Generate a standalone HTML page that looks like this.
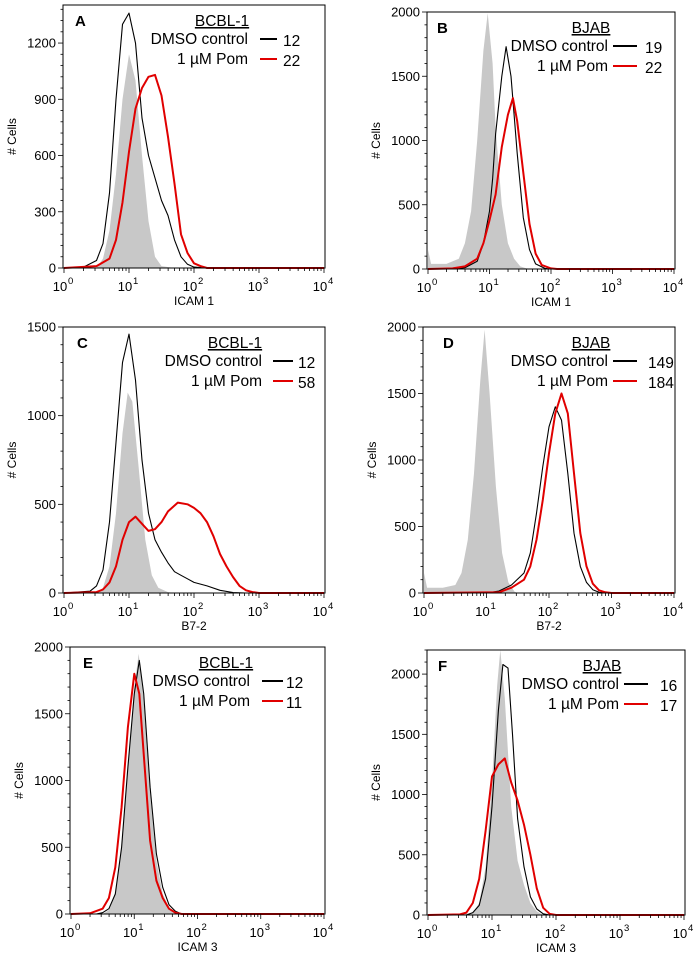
<!DOCTYPE html>
<html><head><meta charset="utf-8"><style>
html,body{margin:0;padding:0;background:#fff;}
svg{display:block;font-family:"Liberation Sans",Arial,sans-serif;}
</style></head><body>
<svg id="fig" width="700" height="972" viewBox="0 0 700 972" xmlns="http://www.w3.org/2000/svg"></svg>
<script>
// ---- data (log10 fluorescence positions, cell counts) ----
const panelLetters = ["A","B","C","D","E","F"];
const cellLines = ["BCBL-1","BJAB","BCBL-1","BJAB","BCBL-1","BJAB"];
const markers = ["ICAM 1","ICAM 1","B7-2","B7-2","ICAM 3","ICAM 3"];
const mfiDmso = ["12","19","12","149","12","16"];
const mfiPom = ["22","22","58","184","11","17"];
const xTickLabels = ["0","1","2","3","4"];
const yTicksA = [0,300,600,900,1200];
const yTicksB = [0,500,1000,1500,2000];
const yTicksC = [0,500,1000,1500];
const yTicksD = [0,500,1000,1500,2000];
const yTicksE = [0,500,1000,1500,2000];
const yTicksF = [0,500,1000,1500,2000];
const yMax = [1403,2000,1500,2000,2000,2200];

const grayAx=[0.5,0.6,0.7,0.8,0.9,1.0,1.1,1.2,1.3,1.4,1.5,1.7];
const grayAy=[0,50,200,500,900,1140,1000,600,250,60,10,0];
const blackAx=[0.3,0.5,0.6,0.7,0.8,0.9,1.0,1.1,1.2,1.3,1.4,1.5,1.6,1.7,1.8,1.9,2.0,2.2];
const blackAy=[5,40,130,400,900,1300,1360,1200,800,600,480,360,280,150,60,20,5,0];
const redAx=[0.5,0.7,0.8,0.9,1.0,1.1,1.2,1.3,1.4,1.5,1.6,1.7,1.8,1.9,2.0,2.1,2.2];
const redAy=[10,50,150,350,620,850,960,1020,1030,920,700,450,180,80,25,10,0];

const grayBx=[0,0.05,0.3,0.5,0.6,0.7,0.8,0.9,0.97,1.05,1.1,1.2,1.3,1.4,1.5,1.6,1.7];
const grayBy=[150,40,40,80,200,450,1000,1700,1990,1600,1100,500,200,80,20,5,0];
const blackBx=[0.4,0.6,0.8,0.9,1.0,1.05,1.1,1.2,1.27,1.35,1.45,1.55,1.65,1.75,1.9,2.0];
const blackBy=[0,10,60,200,450,700,1050,1500,1730,1500,900,400,150,40,5,0];
const redBx=[0.4,0.6,0.8,0.9,1.0,1.1,1.2,1.3,1.38,1.45,1.55,1.65,1.75,1.85,2.0,2.1];
const redBy=[5,20,80,200,380,580,950,1200,1330,1150,750,350,120,30,5,0];

const grayCx=[0.5,0.6,0.7,0.8,0.9,0.98,1.05,1.15,1.25,1.35,1.45,1.6,1.7];
const grayCy=[0,30,150,450,900,1130,1080,700,300,100,30,5,0];
const blackCx=[0.4,0.5,0.6,0.7,0.8,0.9,1.0,1.1,1.2,1.3,1.4,1.5,1.6,1.7,1.8,1.9,2.0,2.2,2.4,2.6,2.8];
const blackCy=[10,40,130,400,850,1300,1460,1200,750,450,300,230,170,120,100,80,60,40,15,3,0];
const redCx=[0.5,0.6,0.7,0.8,0.9,1.0,1.1,1.2,1.3,1.4,1.5,1.6,1.75,1.9,2.0,2.1,2.2,2.3,2.4,2.5,2.6,2.7,2.8,2.9,3.0];
const redCy=[5,20,60,150,300,400,430,390,350,360,400,460,510,500,480,450,400,320,220,150,90,40,15,5,0];

const grayDx=[0,0.05,0.3,0.5,0.6,0.7,0.8,0.9,0.97,1.05,1.15,1.25,1.35,1.45,1.5];
const grayDy=[150,40,40,60,150,400,900,1600,1980,1500,800,300,80,10,0];
const blackDx=[1.0,1.2,1.4,1.6,1.7,1.8,1.9,2.0,2.1,2.2,2.3,2.4,2.5,2.6,2.7,2.8,2.9];
const blackDy=[0,15,60,150,300,600,950,1250,1400,1300,900,450,200,80,25,5,0];
const redDx=[1.2,1.4,1.6,1.7,1.8,1.9,2.0,2.1,2.2,2.3,2.4,2.5,2.6,2.7,2.8,2.9,3.0];
const redDy=[5,40,100,200,400,700,1050,1350,1500,1350,900,450,200,70,20,5,0];

const grayEx=[0.5,0.6,0.7,0.8,0.9,1.0,1.07,1.15,1.25,1.35,1.45,1.55,1.65,1.75];
const grayEy=[0,30,150,500,1100,1700,1950,1600,900,400,150,50,10,0];
const blackEx=[0.4,0.5,0.6,0.7,0.8,0.9,1.0,1.08,1.15,1.25,1.35,1.45,1.55,1.65,1.75];
const blackEy=[0,10,40,150,500,1100,1650,1900,1650,950,450,200,70,20,0];
const redEx=[0.3,0.5,0.6,0.7,0.8,0.9,1.0,1.08,1.15,1.25,1.35,1.45,1.55,1.65,1.75];
const redEy=[5,40,120,350,800,1400,1800,1650,1200,550,250,120,40,10,0];

const grayFx=[0.5,0.7,0.8,0.9,1.0,1.08,1.13,1.2,1.3,1.4,1.5,1.6,1.7,1.8];
const grayFy=[0,20,100,400,1100,1900,2200,1800,900,450,250,100,30,0];
const blackFx=[0.6,0.7,0.8,0.9,1.0,1.1,1.17,1.25,1.32,1.4,1.5,1.6,1.7,1.8,1.9];
const blackFy=[0,20,80,300,900,1700,2080,2050,1500,800,400,150,50,10,0];
const redFx=[0.5,0.6,0.7,0.8,0.9,1.0,1.1,1.2,1.3,1.4,1.5,1.6,1.7,1.8,1.9,2.0];
const redFy=[5,20,100,300,700,1150,1250,1300,1100,950,750,500,220,60,10,0];

// ---- layout ----
const geo=[
 {l:63,r:325,t:5,b:268,yt:yTicksA,lx:75,leg:{tc:222,tr:248,l1:260,l2:277,n:283}},
 {l:427,r:675,t:12,b:269,yt:yTicksB,lx:437,leg:{tc:591,tr:608,l1:613,l2:637,n:645}},
 {l:63,r:325,t:327,b:593,yt:yTicksC,lx:77,leg:{tc:235,tr:262,l1:273,l2:293,n:298}},
 {l:423,r:675,t:327,b:593,yt:yTicksD,lx:443,leg:{tc:591,tr:608,l1:613,l2:637,n:648}},
 {l:70,r:325,t:647,b:914,yt:yTicksE,lx:83,leg:{tc:226,tr:250,l1:262,l2:283,n:286}},
 {l:427,r:685,t:650,b:915,yt:yTicksF,lx:438,leg:{tc:602,tr:619,l1:624,l2:648,n:660}}
];
const series=[
 [[grayAx,grayAy],[blackAx,blackAy],[redAx,redAy]],
 [[grayBx,grayBy],[blackBx,blackBy],[redBx,redBy]],
 [[grayCx,grayCy],[blackCx,blackCy],[redCx,redCy]],
 [[grayDx,grayDy],[blackDx,blackDy],[redDx,redDy]],
 [[grayEx,grayEy],[blackEx,blackEy],[redEx,redEy]],
 [[grayFx,grayFy],[blackFx,blackFy],[redFx,redFy]]
];
const NS="http://www.w3.org/2000/svg";
const svg=document.getElementById('fig');
function mk(tag,attrs,parent){const e=document.createElementNS(NS,tag);for(const k in attrs)e.setAttribute(k,attrs[k]);(parent||svg).appendChild(e);return e;}

geo.forEach((g,i)=>{
 const grp=mk('g',{});
 
 
 const xs=v=>g.l+(v/4)*(g.r-g.l-2)+1;
 const ys=v=>g.b-(v/yMax[i])*(g.b-g.t);
 const cols=['#c8c8c8','#000','#e00000'];
 const names=['isotype-histogram','dmso-histogram','pom-histogram'];
 series[i].forEach((s,k)=>{
  const X=s[0],Y=s[1];
  let pts=[];
  if(k>0) pts.push([xs(0),ys(0)]);
  else pts.push([xs(X[0]),ys(0)]);
  for(let j=0;j<X.length;j++) pts.push([xs(X[j]),ys(Y[j])]);
  if(k>0) pts.push([xs(4),ys(0)]);
  else pts.push([xs(X[X.length-1]),ys(0)]);
  const d='M'+pts.map(p=>p[0].toFixed(1)+','+p[1].toFixed(1)).join('L')+(k==0?'Z':'');
  const p=mk('path',{d:d,fill:k==0?cols[0]:'none',stroke:k==0?'none':cols[k],'stroke-width':k==2?2:1.1,'stroke-linejoin':'round'},grp);
  
  
 });
 const fr=mk('rect',{x:g.l,y:g.t,width:g.r-g.l,height:g.b-g.t,fill:'none',stroke:'#000','stroke-width':1},grp);
 
 
 const step=g.yt[1]-g.yt[0];
 for(let v=0;v<=yMax[i];v+=step/5){
  const major=Math.abs(v/step-Math.round(v/step))<1e-6;
  mk('line',{x1:g.l,x2:g.l-(major?5:2.5),y1:ys(v),y2:ys(v),stroke:'#000','stroke-width':0.8},grp);
 }
 g.yt.forEach(v=>{
  const t=mk('text',{x:g.l-7,y:ys(v)+4.5,'text-anchor':'end','font-size':13},grp);
  t.textContent=v;
  
  
 });
 for(let dcd=0;dcd<4;dcd++){for(let m=1;m<10;m++){const v=dcd+Math.log10(m);mk('line',{x1:xs(v),x2:xs(v),y1:g.b,y2:g.b+(m==1?5:3),stroke:'#000','stroke-width':0.8},grp);}}
 mk('line',{x1:xs(4),x2:xs(4),y1:g.b,y2:g.b+5,stroke:'#000','stroke-width':0.8},grp);
 xTickLabels.forEach((e,k)=>{
  const t=mk('text',{x:xs(k)-4,y:g.b+23,'text-anchor':'middle','font-size':13},grp);
  t.textContent='10';
  
  
  const s=mk('text',{x:xs(k)+4,y:g.b+16,'font-size':9.5},grp);
  s.textContent=e;
 });
 const xt=mk('text',{x:(g.l+g.r)/2,y:g.b+37,'text-anchor':'middle','font-size':12},grp);
 xt.textContent=markers[i];
 
 
 const yx=g.l-47, yy=(g.t+g.b)/2;
 const yt=mk('text',{x:yx,y:yy,'text-anchor':'middle','font-size':12,transform:`rotate(-90 ${yx} ${yy})`},grp);
 yt.textContent='# Cells';
 
 
 const pl=mk('text',{x:g.lx,y:g.t+21,'font-size':15,'font-weight':'bold'},grp);
 pl.textContent=panelLetters[i];
 
 
 const L=g.leg;
 const lt=mk('text',{x:L.tc,y:g.t+21,'text-anchor':'middle','font-size':15.5,'text-decoration':'underline'},grp);
 lt.textContent=cellLines[i];
 
 
 const rows=[['DMSO control',mfiDmso[i],'#000'],['1 µM Pom',mfiPom[i],'#e00000']];
 rows.forEach((r,k)=>{
  const yy2=g.t+39+k*20;
  const a=mk('text',{x:L.tr,y:yy2,'text-anchor':'end','font-size':15.5},grp);
  a.textContent=r[0];
  
  
  mk('line',{x1:L.l1,x2:L.l2,y1:yy2-5,y2:yy2-5,stroke:r[2],'stroke-width':2},grp);
  const n=mk('text',{x:L.n,y:yy2+2,'font-size':15.5},grp);
  n.textContent=r[1];
  
  
 });
});
</script>
</body></html>
